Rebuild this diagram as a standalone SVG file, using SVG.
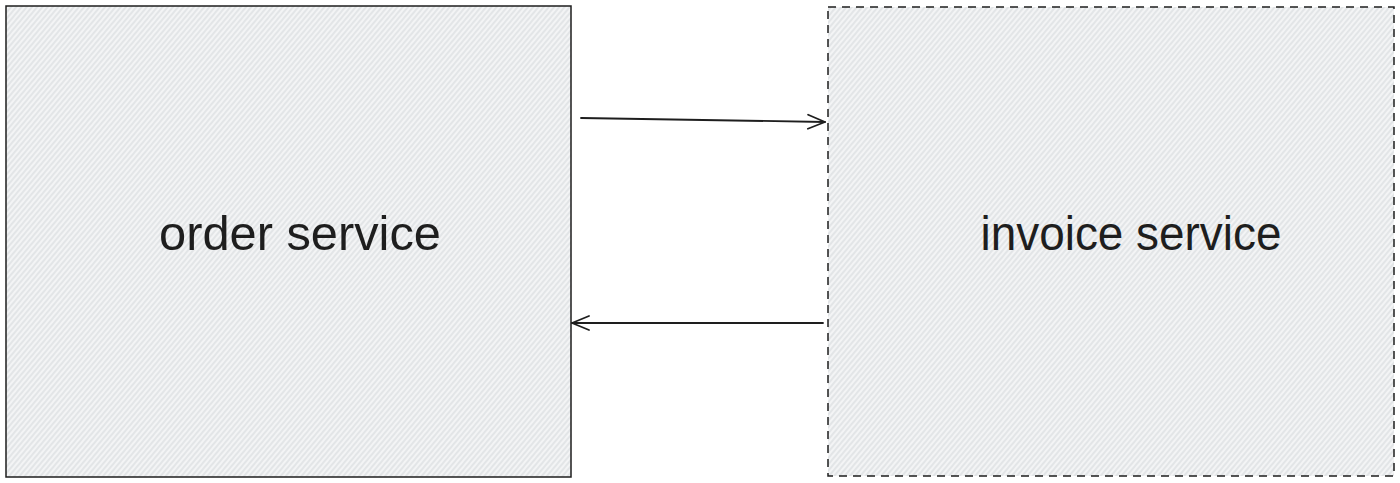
<svg xmlns="http://www.w3.org/2000/svg" width="1400" height="483" viewBox="0 0 1400 483">
  <defs>
    <pattern id="hatch" patternUnits="userSpaceOnUse" width="4" height="4" patternTransform="rotate(40)">
      <rect width="4" height="4" fill="#f3f4f5"/>
      <line x1="1" y1="0" x2="1" y2="4" stroke="#d8dbdf" stroke-width="1.2"/>
    </pattern>
    <marker id="arrow" viewBox="0 0 20 20" refX="19" refY="10" markerWidth="20" markerHeight="20" markerUnits="userSpaceOnUse" orient="auto">
      <path d="M2,3 L19,10 L2,17" fill="none" stroke="#1e1e1e" stroke-width="1.8" stroke-linecap="round" stroke-linejoin="round"/>
    </marker>
  </defs>
  <style>
    .box { fill: url(#hatch); stroke: #1e1e1e; stroke-width: 1.5; }
    .dashed { stroke-dasharray: 8 6; }
    .label { font-family: "Liberation Sans", Arial, sans-serif; font-size: 48px; fill: #1e1e1e; text-anchor: middle; }
    .conn { fill: none; stroke: #1e1e1e; stroke-width: 1.8; stroke-linecap: round; marker-end: url(#arrow); }
  </style>
  <rect width="1400" height="483" fill="#ffffff"/>
  <g id="order-service">
    <rect class="box" x="6" y="6" width="565" height="471"/>
    <text class="label" x="300" y="250" textLength="282" lengthAdjust="spacingAndGlyphs">order service</text>
  </g>
  <g id="invoice-service">
    <rect class="box dashed" x="828" y="7" width="566" height="469"/>
    <text class="label" x="1131" y="250" textLength="301" lengthAdjust="spacingAndGlyphs">invoice service</text>
  </g>
  <g id="connectors">
    <path class="conn" d="M581,118 L825,122"/>
    <path class="conn" d="M823,323 L572,323"/>
  </g>
</svg>
